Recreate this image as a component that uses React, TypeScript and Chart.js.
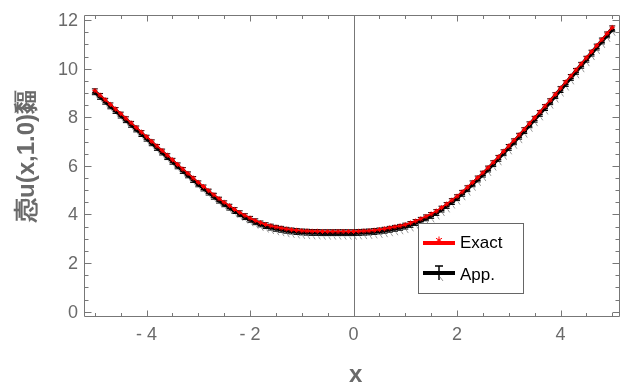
import React, { useEffect, useRef } from "react";
import { Chart, registerables } from "chart.js";

Chart.register(...registerables);

const xValues = [
  -5.0, -4.9, -4.8, -4.7, -4.6, -4.5, -4.4, -4.3, -4.2, -4.1,
  -4.0, -3.9, -3.8, -3.7, -3.6, -3.5, -3.4, -3.3, -3.2, -3.1,
  -3.0, -2.9, -2.8, -2.7, -2.6, -2.5, -2.4, -2.3, -2.2, -2.1,
  -2.0, -1.9, -1.8, -1.7, -1.6, -1.5, -1.4, -1.3, -1.2, -1.1,
  -1.0, -0.9, -0.8, -0.7, -0.6, -0.5, -0.4, -0.3, -0.2, -0.1,
  0.0, 0.1, 0.2, 0.3, 0.4, 0.5, 0.6, 0.7, 0.8, 0.9,
  1.0, 1.1, 1.2, 1.3, 1.4, 1.5, 1.6, 1.7, 1.8, 1.9,
  2.0, 2.1, 2.2, 2.3, 2.4, 2.5, 2.6, 2.7, 2.8, 2.9,
  3.0, 3.1, 3.2, 3.3, 3.4, 3.5, 3.6, 3.7, 3.8, 3.9,
  4.0, 4.1, 4.2, 4.3, 4.4, 4.5, 4.6, 4.7, 4.8, 4.9,
  5.0,
];

const exactValues = [
  9.10, 8.91, 8.72, 8.53, 8.34, 8.15, 7.96, 7.77, 7.58, 7.39,
  7.20, 7.01, 6.82, 6.63, 6.44, 6.25, 6.06, 5.87, 5.69, 5.50,
  5.32, 5.15, 4.98, 4.81, 4.65, 4.50, 4.36, 4.21, 4.08, 3.96,
  3.85, 3.75, 3.66, 3.59, 3.53, 3.48, 3.44, 3.40, 3.37, 3.35,
  3.33, 3.32, 3.31, 3.31, 3.30, 3.30, 3.30, 3.30, 3.30, 3.30,
  3.30, 3.31, 3.32, 3.33, 3.35, 3.38, 3.41, 3.45, 3.49, 3.53,
  3.58, 3.65, 3.73, 3.82, 3.92, 4.02, 4.14, 4.28, 4.43, 4.59,
  4.75, 4.93, 5.12, 5.32, 5.52, 5.72, 5.93, 6.15, 6.37, 6.60,
  6.82, 7.05, 7.28, 7.51, 7.75, 7.98, 8.22, 8.46, 8.70, 8.95,
  9.20, 9.45, 9.70, 9.95, 10.20, 10.45, 10.70, 10.95, 11.20, 11.45,
  11.70,
];

const approxValues = [
  9.05, 8.86, 8.66, 8.47, 8.28, 8.09, 7.90, 7.71, 7.52, 7.33,
  7.14, 6.95, 6.76, 6.57, 6.38, 6.19, 6.00, 5.81, 5.63, 5.44,
  5.26, 5.09, 4.92, 4.75, 4.59, 4.44, 4.30, 4.16, 4.03, 3.91,
  3.80, 3.70, 3.61, 3.54, 3.48, 3.43, 3.39, 3.35, 3.32, 3.30,
  3.28, 3.27, 3.26, 3.26, 3.25, 3.25, 3.25, 3.25, 3.25, 3.25,
  3.25, 3.26, 3.27, 3.28, 3.30, 3.32, 3.35, 3.39, 3.43, 3.47,
  3.52, 3.59, 3.67, 3.76, 3.86, 3.96, 4.08, 4.22, 4.37, 4.53,
  4.69, 4.87, 5.06, 5.26, 5.46, 5.66, 5.87, 6.09, 6.31, 6.54,
  6.76, 6.99, 7.22, 7.45, 7.69, 7.92, 8.16, 8.40, 8.64, 8.89,
  9.14, 9.39, 9.64, 9.89, 10.14, 10.39, 10.64, 10.89, 11.14, 11.39,
  11.64,
];

const approxError = 0.12;

const xTickValues = [-4, -2, 0, 2, 4];
const xTickLabels = ["- 4", "- 2", "0", "2", "4"];
const yTickValues = [0, 2, 4, 6, 8, 10, 12];
const yTickLabels = ["0", "2", "4", "6", "8", "10", "12"];
const xMinorTicks = [-5, -4.5, -3.5, -3, -2.5, -1.5, -1, -0.5, 0.5, 1, 1.5, 2.5, 3, 3.5, 4.5, 5];
const yMinorTicks = [0.5, 1, 1.5, 2.5, 3, 3.5, 4.5, 5, 5.5, 6.5, 7, 7.5, 8.5, 9, 9.5, 10.5, 11, 11.5];

const xTitle = "x";
const yTitle = "悫u(x,1.0)䵗";
const seriesNames = ["Exact", "App."];

const X_MIN = -5.21;
const X_MAX = 5.15;
const Y_MIN = -0.22;
const Y_MAX = 12.21;

const AXIS_COLOR = "#777777";
const LABEL_COLOR = "#6a6a6a";
const FONT = '"Liberation Sans", Arial, sans-serif';

function drawStar(ctx: CanvasRenderingContext2D, cx: number, cy: number, r: number) {
  ctx.beginPath();
  for (let i = 0; i < 3; i++) {
    const a = (Math.PI / 3) * i + Math.PI / 2;
    ctx.moveTo(cx + Math.cos(a) * r, cy + Math.sin(a) * r);
    ctx.lineTo(cx - Math.cos(a) * r, cy - Math.sin(a) * r);
  }
  ctx.stroke();
}

const framePlugin = {
  id: "frameAxes",
  beforeDatasetsDraw(chart: any) {
    const { ctx, chartArea: a, scales } = chart;
    const x0 = Math.round(scales.x.getPixelForValue(0)) + 0.5;
    ctx.save();
    ctx.strokeStyle = AXIS_COLOR;
    ctx.lineWidth = 1;
    ctx.beginPath();
    ctx.moveTo(x0, a.top);
    ctx.lineTo(x0, a.bottom);
    ctx.stroke();
    ctx.restore();
  },
  afterDatasetDraw(chart: any, args: any) {
    if (args.index !== 1) return;
    const { ctx, scales } = chart;
    ctx.save();
    ctx.strokeStyle = "#000";
    ctx.lineWidth = 1;
    for (let i = 0; i < xValues.length; i++) {
      const px = scales.x.getPixelForValue(xValues[i]);
      const top = scales.y.getPixelForValue(approxValues[i] + approxError);
      const bot = scales.y.getPixelForValue(approxValues[i] - approxError);
      ctx.beginPath();
      ctx.moveTo(px, top);
      ctx.lineTo(px, bot);
      ctx.moveTo(px - 3, top);
      ctx.lineTo(px + 3, top);
      ctx.moveTo(px - 3, bot);
      ctx.lineTo(px + 3, bot);
      ctx.stroke();
    }
    ctx.strokeStyle = "#9a9a9a";
    for (let i = 0; i < xValues.length; i++) {
      const px = scales.x.getPixelForValue(xValues[i]);
      const bot = scales.y.getPixelForValue(approxValues[i] - approxError);
      ctx.beginPath();
      ctx.moveTo(px + 1, bot + 1);
      ctx.lineTo(px + 3, bot + 4);
      ctx.stroke();
    }
    ctx.restore();
  },
  afterDraw(chart: any) {
    const { ctx, chartArea: a, scales } = chart;
    const sx = scales.x;
    const sy = scales.y;
    ctx.save();
    ctx.strokeStyle = AXIS_COLOR;
    ctx.lineWidth = 1;
    const L = Math.round(a.left) + 0.5;
    const R = Math.round(a.right) - 0.5;
    const T = Math.round(a.top) + 0.5;
    const B = Math.round(a.bottom) - 0.5;
    ctx.beginPath();
    ctx.rect(L, T, R - L, B - T);
    ctx.stroke();

    const tick = (v: number, len: number, axis: "x" | "y") => {
      if (axis === "x") {
        const p = Math.round(sx.getPixelForValue(v)) + 0.5;
        ctx.moveTo(p, B);
        ctx.lineTo(p, B - len);
        ctx.moveTo(p, T);
        ctx.lineTo(p, T + len);
      } else {
        const p = Math.round(sy.getPixelForValue(v)) + 0.5;
        ctx.moveTo(L, p);
        ctx.lineTo(L + len, p);
        ctx.moveTo(R, p);
        ctx.lineTo(R - len, p);
      }
    };
    ctx.beginPath();
    xTickValues.forEach((v) => tick(v, 6, "x"));
    xMinorTicks.forEach((v) => tick(v, 3.5, "x"));
    yTickValues.forEach((v) => tick(v, 7, "y"));
    yMinorTicks.forEach((v) => tick(v, 4, "y"));
    ctx.stroke();

    ctx.fillStyle = LABEL_COLOR;
    ctx.font = `18px ${FONT}`;
    ctx.textAlign = "center";
    ctx.textBaseline = "middle";
    xTickValues.forEach((v, i) => {
      ctx.fillText(xTickLabels[i], sx.getPixelForValue(v), 335);
    });
    ctx.textAlign = "right";
    yTickValues.forEach((v, i) => {
      ctx.fillText(yTickLabels[i], 78, sy.getPixelForValue(v) + 1);
    });

    ctx.font = `bold 24px ${FONT}`;
    ctx.textAlign = "center";
    ctx.textBaseline = "alphabetic";
    ctx.fillText(xTitle, sx.getPixelForValue(0) + 2, 382);

    ctx.save();
    ctx.translate(27, 156);
    ctx.rotate(-Math.PI / 2);
    ctx.textBaseline = "middle";
    ctx.fillText(yTitle, 0, 0);
    ctx.restore();

    // legend
    const bx = 418.5, by = 223.5, bw = 105, bh = 70;
    ctx.fillStyle = "#ffffff";
    ctx.fillRect(bx, by, bw, bh);
    ctx.strokeStyle = "#666666";
    ctx.lineWidth = 1;
    ctx.strokeRect(bx, by, bw, bh);

    ctx.lineWidth = 4;
    ctx.strokeStyle = "#ff0000";
    ctx.beginPath();
    ctx.moveTo(423, 243);
    ctx.lineTo(455, 243);
    ctx.stroke();
    ctx.lineWidth = 1;
    drawStar(ctx, 439, 240, 3.5);

    ctx.lineWidth = 4;
    ctx.strokeStyle = "#000000";
    ctx.beginPath();
    ctx.moveTo(423, 273);
    ctx.lineTo(455, 273);
    ctx.stroke();
    ctx.lineWidth = 1.5;
    ctx.beginPath();
    ctx.moveTo(439, 266);
    ctx.lineTo(439, 280);
    ctx.moveTo(435, 266);
    ctx.lineTo(443, 266);
    ctx.stroke();
    ctx.strokeStyle = "#9a9a9a";
    ctx.lineWidth = 1;
    ctx.beginPath();
    ctx.moveTo(440, 277);
    ctx.lineTo(443, 281);
    ctx.stroke();

    ctx.fillStyle = "#000000";
    ctx.font = `17px ${FONT}`;
    ctx.textAlign = "left";
    ctx.textBaseline = "middle";
    ctx.fillText(seriesNames[0], 460, 243);
    ctx.fillText(seriesNames[1], 460, 275);
    ctx.restore();
  },
};

export default function App() {
  const canvasRef = useRef<HTMLCanvasElement | null>(null);

  useEffect(() => {
    document.body.style.margin = "0";
    const canvas = canvasRef.current;
    if (!canvas) return;
    const chart = new Chart(canvas, {
      type: "line",
      data: {
        datasets: [
          {
            label: seriesNames[0],
            data: xValues.map((x, i) => ({ x, y: exactValues[i] })),
            borderColor: "#ff0000",
            backgroundColor: "#ff0000",
            borderWidth: 1.5,
            pointStyle: "star",
            pointRadius: 2.5,
            pointBorderWidth: 1,
            pointBorderColor: "#ff0000",
            tension: 0,
          },
          {
            label: seriesNames[1],
            data: xValues.map((x, i) => ({ x, y: approxValues[i] })),
            borderColor: "#000000",
            backgroundColor: "#000000",
            borderWidth: 4,
            pointStyle: "triangle",
            pointRadius: 3,
            pointBorderWidth: 1,
            pointBorderColor: "#000000",
            tension: 0,
          },
        ],
      },
      options: {
        responsive: false,
        animation: false,
        devicePixelRatio: 1,
        layout: { padding: { left: 84, top: 15, right: 1, bottom: 66 } },
        plugins: { legend: { display: false }, tooltip: { enabled: false } },
        scales: {
          x: { type: "linear", display: false, min: X_MIN, max: X_MAX },
          y: { type: "linear", display: false, min: Y_MIN, max: Y_MAX },
        },
      },
      plugins: [framePlugin],
    });
    return () => chart.destroy();
  }, []);

  return (
    <div style={{ width: 625, height: 383 }}>
      <canvas ref={canvasRef} width={625} height={383} />
    </div>
  );
}
